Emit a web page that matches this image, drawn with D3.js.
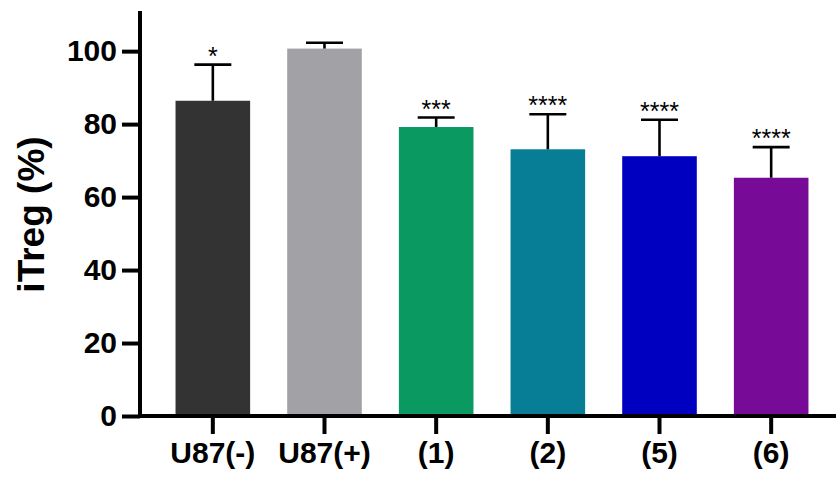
<!DOCTYPE html>
<html>
<head>
<meta charset="utf-8">
<script src="https://cdn.jsdelivr.net/npm/d3@7"></script>
<style>
  body { margin: 0; background: #fff; }
  svg { display: block; font-family: "Liberation Sans", Arial, sans-serif; }
</style>
</head>
<body>
<svg width="836" height="477"></svg>
<script>
const groups = ['U87(-)', 'U87(+)', '(1)', '(2)', '(5)', '(6)'];
const means = [86.4, 100.7, 79.2, 73.1, 71.2, 65.3];
const sds = [9.9, 1.6, 2.6, 9.6, 10.0, 8.4];
const stars = ['*', '', '***', '****', '****', '****'];
const colors = ['#333333', '#a2a1a6', '#0b9962', '#087e96', '#0000c0', '#770a96'];
const yTicks = [0, 20, 40, 60, 80, 100];

const svg = d3.select('svg');
const axisX = 140, baseY = 416;

const data = groups.map((g, i) => ({group: g, mean: means[i], sd: sds[i], star: stars[i], color: colors[i]}));

const x = d3.scaleBand()
  .domain(groups)
  .range([157, 827])
  .paddingInner(0.332)
  .paddingOuter(0.166);

const y = d3.scaleLinear()
  .domain([0, 111])
  .range([baseY, 11]);

// bars
svg.append('g').selectAll('rect').data(data)
  .enter().append('rect')
    .attr('x', d => x(d.group))
    .attr('y', d => y(d.mean))
    .attr('width', x.bandwidth())
    .attr('height', d => y(0) - y(d.mean))
    .attr('fill', d => d.color);

// error bars (upper only)
const err = svg.append('g').attr('stroke', '#000').attr('stroke-width', 2.6);
err.selectAll('.stem').data(data)
  .enter().append('line')
    .attr('x1', d => x(d.group) + x.bandwidth() / 2)
    .attr('x2', d => x(d.group) + x.bandwidth() / 2)
    .attr('y1', d => y(d.mean))
    .attr('y2', d => y(d.mean + d.sd));
err.selectAll('.cap').data(data)
  .enter().append('line')
    .attr('x1', d => x(d.group) + x.bandwidth() / 2 - 18.5)
    .attr('x2', d => x(d.group) + x.bandwidth() / 2 + 18.5)
    .attr('y1', d => y(d.mean + d.sd))
    .attr('y2', d => y(d.mean + d.sd));

// significance stars
svg.append('g').selectAll('text').data(data)
  .enter().append('text')
    .attr('x', d => x(d.group) + x.bandwidth() / 2)
    .attr('y', d => y(d.mean + d.sd))
    .attr('text-anchor', 'middle')
    .attr('font-size', 25)
    .text(d => d.star);

// y axis
const yAxis = svg.append('g')
  .attr('transform', `translate(${axisX},0)`)
  .call(d3.axisLeft(y).tickValues(yTicks).tickSize(18).tickSizeOuter(0).tickPadding(5));
yAxis.selectAll('path, line').attr('stroke', '#000').attr('stroke-width', 4);
yAxis.select('.domain').attr('d', `M0,${y(0) + 2}V${y(111)}`);
yAxis.selectAll('text')
  .attr('font-size', 30)
  .attr('font-weight', 'bold')
  .attr('fill', '#000')
  .attr('font-family', '"Liberation Sans", Arial, sans-serif');

// x axis
const xAxis = svg.append('g')
  .attr('transform', `translate(0,${baseY})`)
  .call(d3.axisBottom(x).tickSize(18).tickSizeOuter(0).tickPadding(8));
xAxis.select('.domain').remove();
xAxis.append('line')
  .attr('x1', axisX - 2).attr('x2', 836)
  .attr('stroke', '#000').attr('stroke-width', 4);
xAxis.selectAll('line').attr('stroke', '#000').attr('stroke-width', 4);
xAxis.selectAll('text')
  .attr('font-size', 30)
  .attr('font-weight', 'bold')
  .attr('fill', '#000')
  .attr('font-family', '"Liberation Sans", Arial, sans-serif');

// y label
svg.append('text')
  .attr('transform', `translate(44,${(y(0) + y(111)) / 2 + 1}) rotate(-90)`)
  .attr('text-anchor', 'middle')
  .attr('font-size', 37)
  .attr('font-weight', 'bold')
  .text('iTreg (%)');
</script>
</body>
</html>
